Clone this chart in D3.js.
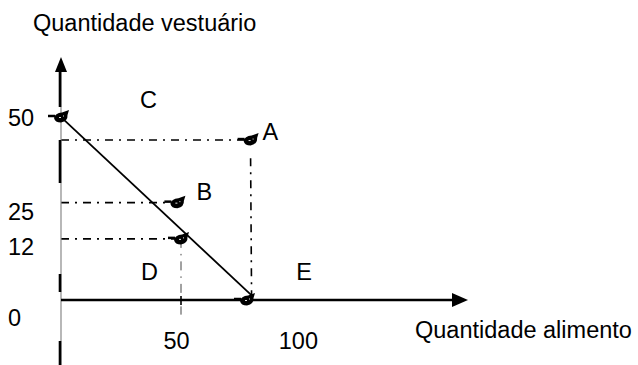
<!DOCTYPE html>
<html>
<head>
<meta charset="utf-8">
<script src="https://cdn.jsdelivr.net/npm/d3@7"></script>
<style>
  body { margin: 0; background: #fff; }
  text { font-family: "Liberation Sans", Arial, sans-serif; font-size: 23.5px; fill: #000; }
</style>
</head>
<body>
<svg width="638" height="365"></svg>
<script>
// values (x = alimento, y = vestuário)
var pointNames = ["A", "B", "C", "P", "E"];
var pointX = [79, 48.5, 0, 50, 77.5];
var pointY = [43.7, 26.6, 50, 16.7, 0];

var budgetX = [0.8, 79.2];
var budgetY = [49.5, 1.4];

var yTickLabels = ["50", "25", "12", "0"];
var yTickValues = [49.7, 24, 14.5, -4.9];
var xTickLabels = ["50", "100"];
var xTickValues = [47.9, 98.7];

var regionNames = ["D", "E"];
var regionX = [33.3, 98];
var regionY = [5.5, 5.5];

var svg = d3.select("svg");
var font = "23.5px";

var x = d3.scaleLinear().domain([0, 100]).range([61, 301]);
var y = d3.scaleLinear().domain([0, 50]).range([300, 117]);

var points = pointNames.map(function (n, i) {
    return { name: n, x: pointX[i], y: pointY[i] };
});
function pt(n) {
    return points.filter(function (d) { return d.name == n; })[0];
}

// dash-dot guide lines
var dashDot = "8 6 2 6";
var guides = [
    [[0, pt("A").y], [pt("A").x, pt("A").y]],
    [[pt("A").x, pt("A").y - 5], [pt("A").x, 0]],
    [[0, pt("B").y], [pt("B").x, pt("B").y]],
    [[0, pt("P").y], [pt("P").x, pt("P").y]]
];
svg.selectAll(".guide").data(guides).enter().append("line")
    .attr("class", "guide")
    .attr("x1", function (d) { return x(d[0][0]); })
    .attr("y1", function (d) { return y(d[0][1]); })
    .attr("x2", function (d) { return x(d[1][0]) + (d[0][0] == d[1][0] ? 1 : 0); })
    .attr("y2", function (d) { return y(d[1][1]); })
    .attr("stroke", "#000")
    .attr("stroke-width", 1.6)
    .attr("stroke-dasharray", dashDot);

// thin guide down from P
svg.append("line")
    .attr("x1", x(pt("P").x)).attr("x2", x(pt("P").x))
    .attr("y1", y(pt("P").y)).attr("y2", y(-4))
    .attr("stroke", "#444").attr("stroke-width", 1)
    .attr("stroke-dasharray", "9 6 1.5 6");

// y axis
svg.append("line")
    .attr("x1", x(0)).attr("x2", x(0))
    .attr("y1", 72).attr("y2", 365)
    .attr("stroke", "#888").attr("stroke-width", 1.2);
svg.append("line")
    .attr("x1", x(0) - 1).attr("x2", x(0) - 1)
    .attr("y1", 72).attr("y2", 365)
    .attr("stroke", "#000").attr("stroke-width", 2.6)
    .attr("stroke-dasharray", "35 33 43 91 18 49 24");
svg.append("path")
    .attr("d", "M" + x(0) + ",57 L" + (x(0) + 6) + ",72 L" + (x(0) - 6) + ",72 Z")
    .attr("fill", "#000");

// x axis
svg.append("line")
    .attr("x1", x(0)).attr("x2", 452)
    .attr("y1", y(0)).attr("y2", y(0))
    .attr("stroke", "#000").attr("stroke-width", 2.4);
svg.append("path")
    .attr("d", "M468," + y(0) + " L452," + (y(0) - 7) + " L452," + (y(0) + 7) + " Z")
    .attr("fill", "#000");
svg.append("line")
    .attr("x1", x(50)).attr("x2", x(50))
    .attr("y1", y(0) - 4).attr("y2", y(0) + 5)
    .attr("stroke", "#000").attr("stroke-width", 1.6);

// tick labels through axes
var yAxis = d3.axisLeft(y).tickValues(yTickValues).tickSize(0)
    .tickFormat(function (d, i) { return yTickLabels[i]; });
var gy = svg.append("g").attr("transform", "translate(" + x(0) + ",0)").call(yAxis);
gy.select(".domain").remove();
gy.selectAll("text").attr("text-anchor", "start").attr("x", -53)
    .style("font-size", font).style("font-family", "'Liberation Sans', Arial, sans-serif");

var xAxis = d3.axisBottom(x).tickValues(xTickValues).tickSize(0).tickPadding(32)
    .tickFormat(function (d, i) { return xTickLabels[i]; });
var gx = svg.append("g").attr("transform", "translate(0," + y(0) + ")").call(xAxis);
gx.select(".domain").remove();
gx.selectAll("text").style("font-size", font)
    .style("font-family", "'Liberation Sans', Arial, sans-serif");

// budget line
svg.append("line")
    .attr("x1", x(budgetX[0])).attr("y1", y(budgetY[0]))
    .attr("x2", x(budgetX[1])).attr("y2", y(budgetY[1]))
    .attr("stroke", "#000").attr("stroke-width", 1.8);

// hand-drawn point markers (black blob with a small tail)
var marker = "M-7,1 Q-6,-4 1,-4.5 L8,-7 L6.5,-2 Q7,4 0,5.5 Q-6,5.5 -7,1 Z";
var gm = svg.selectAll(".mark").data(points).enter().append("g")
    .attr("class", "mark")
    .attr("transform", function (d) { return "translate(" + x(d.x) + "," + y(d.y) + ")"; });
gm.append("path").attr("d", "M-13,-1 L-6,-1").attr("stroke", "#000").attr("stroke-width", 2.5);
gm.append("path").attr("d", marker).attr("fill", "#000");
gm.append("path").attr("d", "M-2,0.5 L0,0.5 M2,-1 L3,-1")
    .attr("stroke", "#fff").attr("stroke-width", 0.9);

// point labels
var labelOff = { A: [12, 0], B: [19, -3], C: [79, -9] };
svg.selectAll(".plabel").data(points.filter(function (d) { return labelOff[d.name]; }))
    .enter().append("text")
    .attr("class", "plabel")
    .attr("x", function (d) { return x(d.x) + labelOff[d.name][0]; })
    .attr("y", function (d) { return y(d.y) + labelOff[d.name][1]; })
    .text(function (d) { return d.name; });

svg.selectAll(".rlabel").data(regionNames).enter().append("text")
    .attr("class", "rlabel")
    .attr("x", function (d, i) { return x(regionX[i]); })
    .attr("y", function (d, i) { return y(regionY[i]); })
    .text(function (d) { return d; });

// axis titles
svg.append("text").attr("x", 33).attr("y", 31).text("Quantidade vestuário");
svg.append("text").attr("x", 415).attr("y", 338).text("Quantidade alimento");
</script>
</body>
</html>
